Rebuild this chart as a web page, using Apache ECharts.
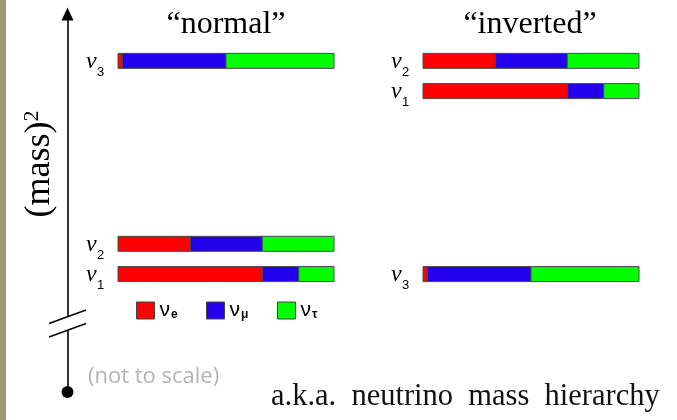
<!DOCTYPE html>
<html>
<head>
<meta charset="utf-8">
<script src="https://cdn.jsdelivr.net/npm/echarts@6/dist/echarts.min.js"></script>
<style>
  html, body { margin: 0; padding: 0; background: #fff; }
  #chart { width: 677px; height: 420px; }
</style>
</head>
<body>
<div id="chart"></div>
<script>
// Mass eigenstates ν1, ν2, ν3 and the share of each flavour in them
const stateNames = ['1', '2', '3'];
const fracE   = [0.670, 0.335, 0.020];
const fracMu  = [0.167, 0.333, 0.480];
const fracTau = [0.163, 0.332, 0.500];

// Schematic (mass)² level of each eigenstate (arbitrary units, not to scale)
const massNormal   = [31.2, 39.2, 87.6];
const massInverted = [79.6, 87.6, 31.2];

// Flavours, legend subscripts and colours
const flavours   = ['νe', 'νμ', 'ντ'];
const flavourSub = ['e', 'μ', 'τ'];
const flavourColors = ['#ff0000', '#2200ee', '#00ff00'];

// Panel titles and captions
const orderingTitles = ['“normal”', '“inverted”'];
const axisTitle = '(mass)';
const noteText = '(not to scale)';
const captionText = 'a.k.a.  neutrino  mass  hierarchy';

const BAR_H = 15;
const fractions = [fracE, fracMu, fracTau];

// Segment [start, end, mass, state] of one flavour across every eigenstate
function segments(flavourIdx, masses) {
  return stateNames.map(function (_, s) {
    let start = 0;
    for (let f = 0; f < flavourIdx; f++) start += fractions[f][s];
    return [start, start + fractions[flavourIdx][s], masses[s], s];
  });
}

function renderSegment(params, api) {
  const p0 = api.coord([api.value(0), api.value(2)]);
  const p1 = api.coord([api.value(1), api.value(2)]);
  return {
    type: 'rect',
    shape: { x: p0[0], y: p0[1] - BAR_H / 2, width: p1[0] - p0[0], height: BAR_H },
    style: { fill: api.visual('color'), stroke: '#4a4a4a', lineWidth: 1 }
  };
}

function renderStateLabel(params, api) {
  const p = api.coord([0, api.value(0)]);
  const n = stateNames[api.value(1)];
  return {
    type: 'group', x: p[0], y: p[1],
    children: [
      { type: 'text', x: -32, y: 1,
        style: { text: 'ν', font: 'italic 24px "Liberation Serif"', fill: '#000', align: 'left', verticalAlign: 'middle' } },
      { type: 'text', x: -21, y: 11.5,
        style: { text: n, font: '13px "Liberation Sans"', fill: '#000', align: 'left', verticalAlign: 'middle' } }
    ]
  };
}

const orderings = [massNormal, massInverted];
const series = [];
orderings.forEach(function (masses, g) {
  flavours.forEach(function (name, f) {
    series.push({
      type: 'custom', name: name,
      xAxisIndex: g, yAxisIndex: g,
      itemStyle: { color: flavourColors[f] },
      renderItem: renderSegment,
      data: segments(f, masses),
      silent: true
    });
  });
  series.push({
    type: 'custom', name: 'labels' + g,
    xAxisIndex: g, yAxisIndex: g,
    renderItem: renderStateLabel,
    data: masses.map(function (m, s) { return [m, s]; }),
    silent: true
  });
});

const legendLeft = [136, 206, 277];

const option = {
  animation: false,
  backgroundColor: '#ffffff',
  title: [
    { text: orderingTitles[0], left: 226, top: 9, textAlign: 'center', padding: 0,
      textStyle: { fontFamily: 'Liberation Serif', fontSize: 32, fontWeight: 'normal', color: '#000' } },
    { text: orderingTitles[1], left: 530, top: 9, textAlign: 'center', padding: 0,
      textStyle: { fontFamily: 'Liberation Serif', fontSize: 32, fontWeight: 'normal', color: '#000' } },
    { text: captionText, left: 271, top: 381, padding: 0,
      textStyle: { fontFamily: 'Liberation Serif', fontSize: 30.5, fontWeight: 'normal', color: '#111' } }
  ],
  legend: flavours.map(function (name, i) {
    return {
      data: [name], left: legendLeft[i], top: 300, padding: 0,
      icon: 'rect', itemWidth: 18, itemHeight: 17, selectedMode: false,
      itemStyle: { borderColor: '#444', borderWidth: 1 },
      formatter: function () { return '{v|ν}{s|' + flavourSub[i] + '}'; },
      textStyle: {
        color: '#000',
        rich: {
          v: { fontSize: 21, fontFamily: 'Liberation Sans', color: '#000', lineHeight: 20 },
          s: { fontSize: 12, fontWeight: 'bold', fontFamily: 'Liberation Sans', color: '#000', padding: [8, 0, 0, 1] }
        }
      }
    };
  }),
  grid: [
    { left: 118, width: 216, top: 14, bottom: 28 },
    { left: 423, width: 216, top: 14, bottom: 28 }
  ],
  xAxis: [
    { gridIndex: 0, type: 'value', min: 0, max: 1, show: false },
    { gridIndex: 1, type: 'value', min: 0, max: 1, show: false }
  ],
  yAxis: [
    {
      gridIndex: 0, type: 'value', min: 0, max: 100, position: 'left', offset: 50.5,
      axisLine: { show: true, onZero: false, symbol: ['circle', 'triangle'], symbolSize: [12, 13],
        lineStyle: { color: '#000', width: 1.6 } },
      axisTick: { show: false }, axisLabel: { show: false }, splitLine: { show: false }
    },
    { gridIndex: 1, type: 'value', min: 0, max: 100, show: false }
  ],
  graphic: [
    // olive page edge
    { type: 'rect', z: 100, shape: { x: 0, y: 0, width: 6, height: 420 }, style: { fill: '#a0986f' } },
    // break in the (mass)² axis
    { type: 'rect', z: 100, shape: { x: 60, y: 317, width: 15, height: 13 }, style: { fill: '#fff' } },
    { type: 'line', z: 101, shape: { x1: 49, y1: 323.5, x2: 86, y2: 310 }, style: { stroke: '#000', lineWidth: 1.5 } },
    { type: 'line', z: 101, shape: { x1: 49, y1: 337, x2: 86, y2: 323.5 }, style: { stroke: '#000', lineWidth: 1.5 } },
    // axis title, reading bottom to top
    { type: 'text', z: 100, x: 40, y: 164, rotation: Math.PI / 2,
      style: {
        text: '{a|' + axisTitle + '}{b|2}', align: 'center', verticalAlign: 'middle',
        rich: {
          a: { fontFamily: 'Liberation Serif', fontSize: 36, fill: '#000', color: '#000' },
          b: { fontFamily: 'Liberation Serif', fontSize: 22, fill: '#000', color: '#000', padding: [0, 0, 16, 0] }
        }
      } },
    // scale note
    { type: 'text', z: 100, x: 88, y: 377,
      style: { text: noteText, font: '22px "Open Sans"', fill: '#b4b4b4', align: 'left', verticalAlign: 'middle' } }
  ],
  series: series
};

const chart = echarts.init(document.getElementById('chart'), null, { renderer: 'canvas' });
chart.setOption(option);
</script>
</body>
</html>
